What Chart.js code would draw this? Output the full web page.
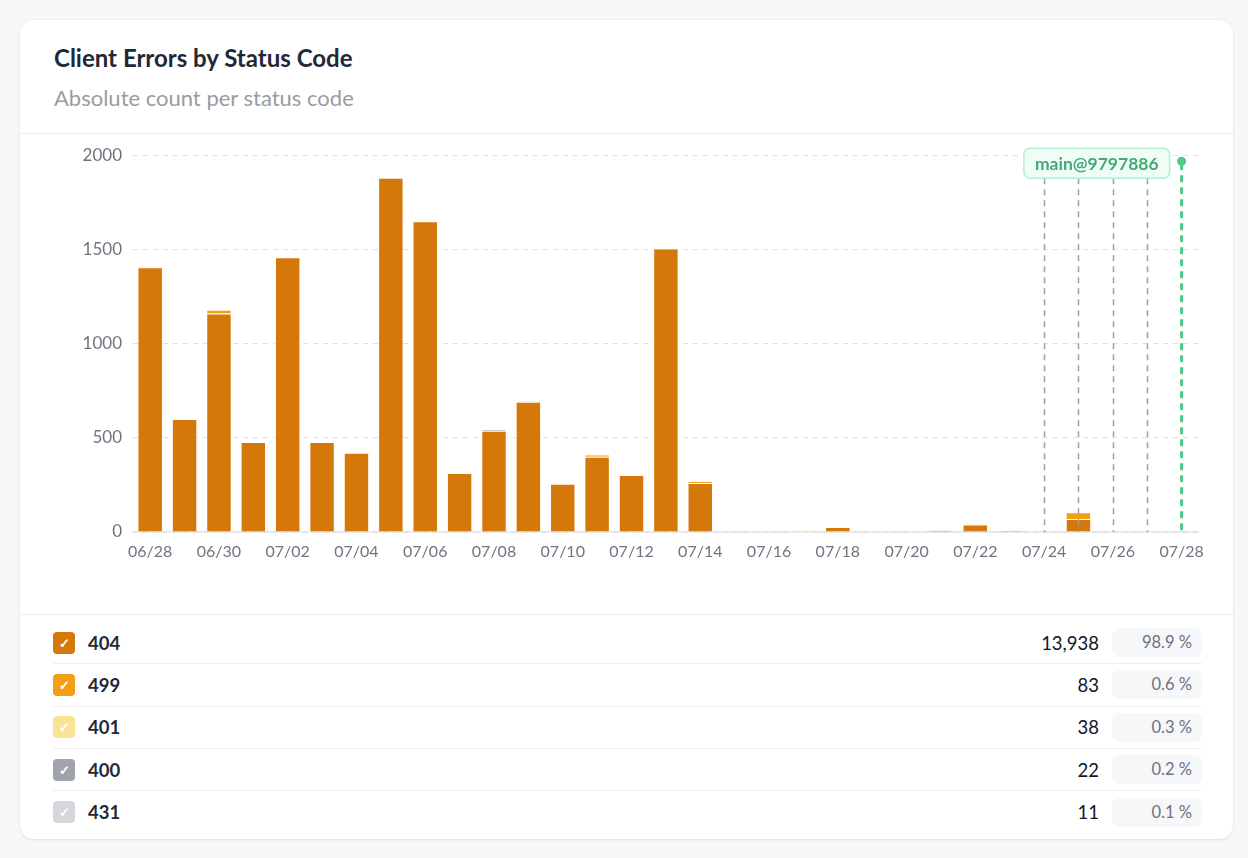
<!DOCTYPE html>
<html>
<head>
<meta charset="utf-8">
<script src="https://cdn.jsdelivr.net/npm/chart.js@4.4.1/dist/chart.umd.min.js"></script>
<style>
  body { margin: 0; background: #f6f7f9; font-family: Lato, "Noto Sans", sans-serif; }
  .card { position: absolute; left: 20px; top: 20px; width: 1213px; height: 819px; background: #fff;
          border-radius: 14px; box-shadow: 0 1px 3px rgba(0,0,0,0.08), 0 0 0 1px rgba(0,0,0,0.02); }
  .title { position: absolute; left: 34px; top: 24px; font-size: 24px; line-height: 28px; font-weight: 700; color: #1f2937; }
  .subtitle { position: absolute; left: 34px; top: 65px; font-size: 22px; line-height: 26px; color: #9a9ca1; }
  .divider { position: absolute; left: 0; right: 0; height: 1px; background: #ececef; }
  .chartbox { position: absolute; left: 34px; top: 114px; width: 1160px; height: 440px; }
  .legend { position: absolute; left: 33px; top: 602px; width: 1149px; }
  .row { height: 42.3px; display: flex; align-items: center; border-bottom: 1px solid #efeff1; box-sizing: border-box; }
  .row:last-child { border-bottom: none; }
  .box { width: 22px; height: 22px; border-radius: 4px; display: flex; align-items: center; justify-content: center;
         color: #fff; font-size: 13px; font-weight: 700; }
  .code { margin-left: 13px; font-size: 18.5px; font-weight: 700; color: #1f2937; flex: 1; }
  .count { font-size: 18.5px; color: #111827; margin-right: 13px; }
  .pill { width: 90px; height: 29px; border-radius: 8px; background: #f6f7f9; box-sizing: border-box;
          padding-right: 10px; text-align: right; line-height: 29px; font-size: 16.5px; color: #6b7280; }
</style>
</head>
<body>
<div class="card">
  <div class="title">Client Errors by Status Code</div>
  <div class="subtitle">Absolute count per status code</div>
  <div class="divider" style="top:113px"></div>
  <div class="chartbox"><canvas id="errorsChart"></canvas></div>
  <div class="divider" style="top:594px"></div>
  <div class="legend" id="legend"></div>
</div>
<script>
const days = ['06/28','06/29','06/30','07/01','07/02','07/03','07/04','07/05','07/06','07/07',
              '07/08','07/09','07/10','07/11','07/12','07/13','07/14','07/15','07/16','07/17',
              '07/18','07/19','07/20','07/21','07/22','07/23','07/24','07/25','07/26','07/27','07/28'];

const codes = ['404', '499', '401', '400', '431'];
const colors = ['#d47809', '#f29f12', '#f9e495', '#9fa3ad', '#d5d7dc'];

const s404 = [1405,600,1160,478,1458,478,420,1880,1650,313,538,692,256,400,302,1505,260,0,0,0,26,0,0,8,40,0,0,69,0,0,0];
const s499 = [0,0,20,0,0,0,0,0,0,0,0,0,0,11,0,0,10,2,0,0,2,0,0,2,0,0,0,36,0,0,0];
const s401 = [0,0,0,0,4,0,0,0,3,0,0,3,4,0,3,0,0,3,0,10,0,0,0,0,8,0,0,0,0,0,0];
const s400 = [4,0,0,0,0,0,0,0,0,0,8,0,0,0,0,0,0,0,0,0,0,0,0,0,0,8,2,0,0,0,0];
const s431 = [3,0,0,0,0,0,0,0,0,0,2,0,0,0,0,0,0,0,0,0,0,0,0,0,0,3,3,0,0,0,0];
const series = [s404, s499, s401, s400, s431];

const yTicks = [0, 500, 1000, 1500, 2000];

// deploy markers
const deployDays = ['07/24', '07/25', '07/26', '07/27'];
const releaseDay = '07/28';
const releaseLabel = 'main@9797886';

const markerPlugin = {
    id: 'markers',
    afterDatasetsDraw(chart) {
        const ctx = chart.ctx;
        const x = chart.scales.x, y = chart.scales.y;
        const top = chart.chartArea.top;
        const base = y.getPixelForValue(0);
        ctx.save();
        // gray deploy lines
        ctx.strokeStyle = '#9c9fa7';
        ctx.lineWidth = 1.5;
        ctx.setLineDash([6, 5]);
        deployDays.forEach(d => {
            const px = Math.round(x.getPixelForValue(days.indexOf(d))) + 0.5;
            ctx.beginPath();
            ctx.moveTo(px, top + 23);
            ctx.lineTo(px, base);
            ctx.stroke();
        });
        // green release line
        const gx = x.getPixelForValue(days.indexOf(releaseDay));
        ctx.strokeStyle = '#4fc98b';
        ctx.lineWidth = 3;
        ctx.setLineDash([7, 5]);
        ctx.beginPath();
        ctx.moveTo(gx, top + 8);
        ctx.lineTo(gx, base);
        ctx.stroke();
        ctx.setLineDash([]);
        ctx.fillStyle = '#4fc98b';
        ctx.beginPath();
        ctx.arc(gx, top + 6, 4.5, 0, Math.PI * 2);
        ctx.fill();
        // label box
        ctx.font = 'bold 17.5px Lato';
        const tw = ctx.measureText(releaseLabel).width;
        const bw = tw + 22, bh = 30;
        const bx = gx - 12 - bw, by = top - 7;
        ctx.fillStyle = '#effdf6';
        ctx.strokeStyle = '#b3efd2';
        ctx.lineWidth = 1.5;
        ctx.beginPath();
        ctx.roundRect(bx, by, bw, bh, 6);
        ctx.fill();
        ctx.stroke();
        ctx.fillStyle = '#46a874';
        ctx.textBaseline = 'middle';
        ctx.textAlign = 'center';
        ctx.fillText(releaseLabel, bx + bw / 2, by + bh / 2 + 1);
        ctx.restore();
    }
};

const ctx = document.getElementById('errorsChart').getContext('2d');
new Chart(ctx, {
    type: 'bar',
    data: {
        labels: days,
        datasets: codes.map((c, i) => ({
            label: c,
            data: series[i],
            backgroundColor: colors[i],
            borderColor: 'rgba(255,255,255,0.3)',
            borderWidth: 1,
            barPercentage: 0.74,
            categoryPercentage: 1
        }))
    },
    options: {
        responsive: true,
        maintainAspectRatio: false,
        animation: false,
        layout: { padding: { top: 21, right: 14, left: 0, bottom: 0 } },
        plugins: { legend: { display: false }, tooltip: { enabled: false } },
        scales: {
            x: {
                stacked: true,
                grid: { display: false, drawTicks: false },
                border: { display: true, color: '#e3e4e8', width: 1.5 },
                ticks: {
                    autoSkip: false,
                    padding: 10,
                    color: '#6f747e',
                    font: { family: 'Lato', size: 16 },
                    maxRotation: 0,
                    callback: (v, i) => i % 2 === 0 ? days[i] : ''
                },
                afterFit: s => { s.height = 42; }
            },
            y: {
                stacked: true,
                min: 0,
                max: 2000,
                afterBuildTicks: s => { s.ticks = yTicks.map(v => ({ value: v })); },
                grid: { color: '#dfe0e4', lineWidth: 1, drawTicks: false },
                border: { display: false, dash: [5, 5] },
                ticks: {
                    padding: 11,
                    color: '#6f747e',
                    font: { family: 'Lato', size: 17 },
                    callback: v => String(v)
                },
                afterFit: s => { s.width = 79; }
            }
        }
    },
    plugins: [markerPlugin]
});

// legend table
const totals = series.map(s => s.reduce((a, b) => a + b, 0));
const grand = totals.reduce((a, b) => a + b, 0);
document.getElementById('legend').innerHTML = codes.map((c, i) =>
    '<div class="row">' +
    '<div class="box" style="background:' + colors[i] + '">&#10003;</div>' +
    '<div class="code">' + c + '</div>' +
    '<div class="count">' + totals[i].toLocaleString('en-US') + '</div>' +
    '<div class="pill">' + (totals[i] / grand * 100).toFixed(1) + ' %</div>' +
    '</div>'
).join('');
</script>
</body>
</html>
